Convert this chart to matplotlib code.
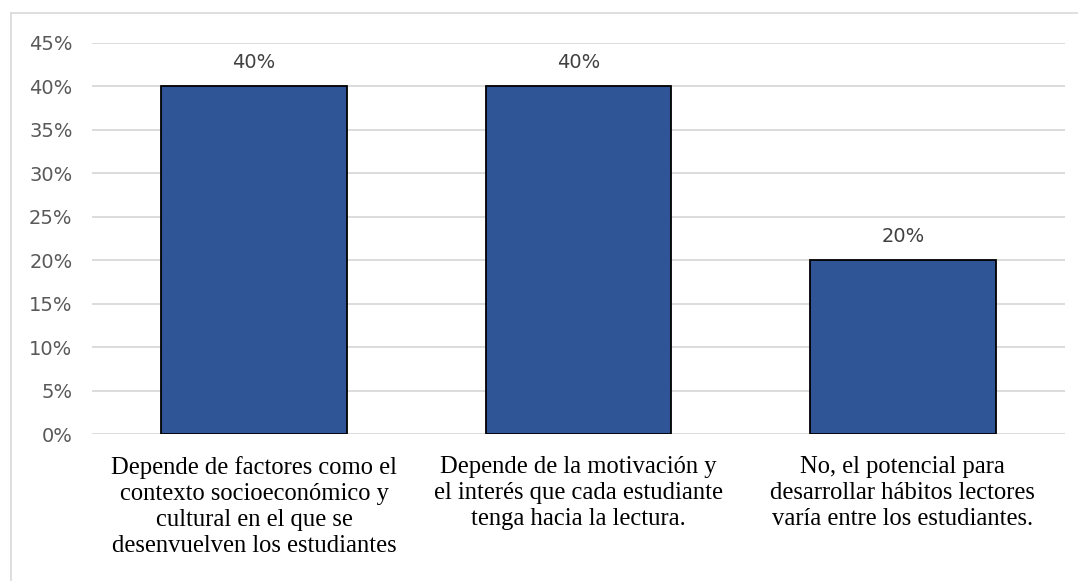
import numpy as np
import matplotlib.pyplot as plt
from matplotlib.lines import Line2D

# Data
categories = [
    'Depende de factores como el\ncontexto socioeconómico y\ncultural en el que se\ndesenvuelven los estudiantes',
    'Depende de la motivación y\nel interés que cada estudiante\ntenga hacia la lectura.',
    'No, el potencial para\ndesarrollar hábitos lectores\nvaría entre los estudiantes.',
]
values = [0.40, 0.40, 0.20]
yticks = [0, 0.05, 0.10, 0.15, 0.20, 0.25, 0.30, 0.35, 0.40, 0.45]

fig = plt.figure(figsize=(10.78, 5.81), dpi=100)
ax = fig.add_axes([0.0853, 0.253, 0.9027, 0.673])

x = np.arange(len(categories))
bars = ax.bar(x, values, width=0.573, color='#2F5597', edgecolor='black',
              linewidth=1.3, zorder=3)

ax.set_xlim(-0.5, len(categories) - 0.5)
ax.set_ylim(0, 0.45)
ax.set_yticks(yticks)
ax.set_yticklabels([f'{int(round(v * 100))}%' for v in yticks],
                   fontsize=14, color='#595959', family='DejaVu Sans')
ax.grid(axis='y', color='#D9D9D9', linewidth=1.3, zorder=0)
ax.tick_params(axis='y', length=0, pad=14)
ax.tick_params(axis='x', length=0, pad=16)
for s in ax.spines.values():
    s.set_visible(False)

ax.set_xticks(x)
ax.set_xticklabels(categories, family='Liberation Serif', fontsize=17.7,
                   linespacing=1.24, color='black')

# value labels
for xi, v in zip(x, values):
    ax.annotate(f'{int(round(v * 100))}%', (xi, v), xytext=(0, 17),
                textcoords='offset points', ha='center', va='center',
                fontsize=14, color='#404040', family='DejaVu Sans')

# chart area border (top and left only visible)
fig.add_artist(Line2D([0.0102, 1.0], [1 - 13 / 581, 1 - 13 / 581],
                      transform=fig.transFigure, color='#D9D9D9', linewidth=1.2))
fig.add_artist(Line2D([0.0102, 0.0102], [0.0, 1 - 13 / 581],
                      transform=fig.transFigure, color='#D9D9D9', linewidth=1.2))

fig.savefig('out.png', dpi=100)
